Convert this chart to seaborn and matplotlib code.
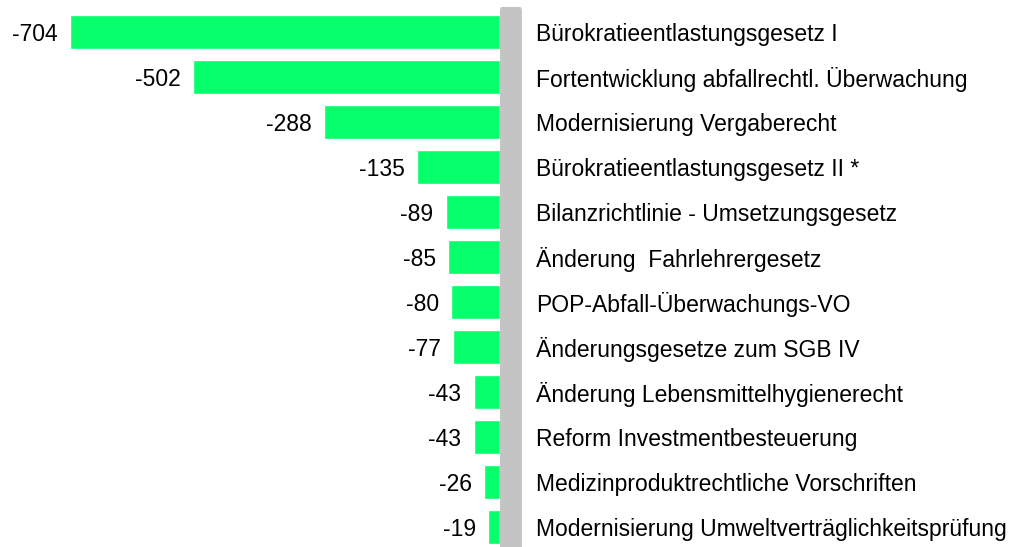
import pandas as pd
import matplotlib
matplotlib.use('Agg')
import matplotlib.pyplot as plt
import seaborn as sns
from matplotlib.patches import FancyBboxPatch

## Daten
gesetze = ['Bürokratieentlastungsgesetz I',
           'Fortentwicklung abfallrechtl. Überwachung',
           'Modernisierung Vergaberecht',
           'Bürokratieentlastungsgesetz II *',
           'Bilanzrichtlinie - Umsetzungsgesetz',
           'Änderung  Fahrlehrergesetz',
           'POP-Abfall-Überwachungs-VO',
           'Änderungsgesetze zum SGB IV',
           'Änderung Lebensmittelhygienerecht',
           'Reform Investmentbesteuerung',
           'Medizinproduktrechtliche Vorschriften',
           'Modernisierung Umweltverträglichkeitsprüfung']
werte = [-704, -502, -288, -135, -89, -85, -80, -77, -43, -43, -26, -19]

df = pd.DataFrame({'gesetz': gesetze, 'wert': werte})

sns.set_style("white")
plt.rcParams['font.family'] = ['Liberation Sans', 'DejaVu Sans']
plt.rcParams['text.color'] = 'black'

fig = plt.figure(figsize=(10.2, 5.47), dpi=100)
ax = fig.add_axes([0, 0, 1, 1])

sns.barplot(data=df, x='wert', y='gesetz', orient='h', color='#06FF6A',
            saturation=1, width=0.76, ax=ax)

ax.set_xlim(-818, 851)
ax.set_ylim(11.44, -0.71)

# grauer Balken als Nulllinie
grau = FancyBboxPatch((0, -0.556), 36, 13, boxstyle='round,pad=0,rounding_size=3',
                      facecolor='#c4c4c4', edgecolor='none', mutation_aspect=0.04,
                      zorder=3)
ax.add_patch(grau)

for i, (g, w) in enumerate(zip(gesetze, werte)):
    ax.text(w - 20, i, str(w), ha='right', va='center_baseline', fontsize=16.5)
    ax.text(59, i, g, ha='left', va='center_baseline', fontsize=16.5)

ax.set_axis_off()
fig.savefig('out.png', dpi=100)
